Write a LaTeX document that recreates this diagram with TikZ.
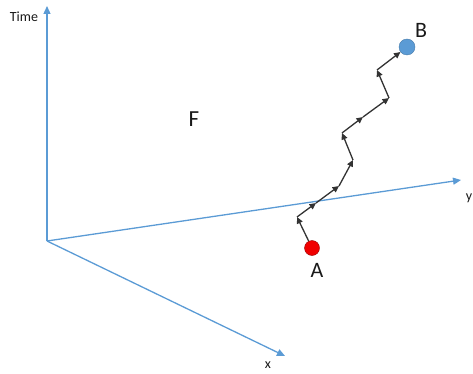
\documentclass[tikz,border=0pt]{standalone}
\usepackage{fontspec}
\setmainfont{Carlito}
\usetikzlibrary{arrows.meta}
\definecolor{axisblue}{RGB}{91,155,213}
\definecolor{ptred}{RGB}{240,0,0}
\definecolor{ptblue}{RGB}{91,155,213}
\tikzset{
  axis/.style={draw=axisblue, line width=1.3pt, -{Triangle[length=8pt,width=7pt]}},
  walk/.style={draw=black!80, line width=1.3pt, -{Triangle[length=6.5pt,width=6pt]}},
  lbl/.style={inner sep=0pt, text=black!90},
}
\begin{document}
\begin{tikzpicture}[x=1pt,y=-1pt]
\useasboundingbox (0,0) rectangle (473,374);
\coordinate (O) at (47,241);
\coordinate (T) at (47,6);
\coordinate (Y) at (461,180);
\coordinate (X) at (285,356);
\draw[axis] (O) -- (T);
\draw[axis] (O) -- (Y);
\draw[axis] (O) -- (X);
\node[lbl, font=\fontsize{14}{14}\selectfont] (tl) at (24,17) {Time};
\node[lbl, font=\fontsize{14}{14}\selectfont] (yl) at (469,198) {y};
\node[lbl, font=\fontsize{14}{14}\selectfont] (xl) at (268,365) {x};
\node[lbl, font=\fontsize{23}{23}\selectfont] (F) at (194,119) {F};
\node[circle, fill=ptred, draw=red!60!black, line width=0.4pt, minimum size=15pt, inner sep=0pt] (A) at (312,248) {};
\node[circle, fill=ptblue, draw=ptblue!80!black, line width=0.4pt, minimum width=15pt, minimum height=16pt, inner sep=0pt] (B) at (407,47) {};
\node[lbl, font=\fontsize{22}{22}\selectfont] (Al) at (317,270) {A};
\node[lbl, font=\fontsize{22}{22}\selectfont] (Bl) at (421,30) {B};
\coordinate (P1) at (297,217);
\coordinate (M1) at (316,203);
\coordinate (M2) at (339,186);
\coordinate (P2) at (353,160);
\coordinate (P3) at (342,133);
\coordinate (M3) at (363,117);
\coordinate (P4) at (389,98);
\coordinate (P5) at (377,70);
\draw[walk] (A) -- (P1);
\draw[walk] (P1) -- (M1);
\draw[walk] (M1) -- (M2);
\draw[walk] (M2) -- (P2);
\draw[walk] (P2) -- (P3);
\draw[walk] (P3) -- (M3);
\draw[walk] (M3) -- (P4);
\draw[walk] (P4) -- (P5);
\draw[walk] (P5) -- (B);
\end{tikzpicture}
\end{document}
